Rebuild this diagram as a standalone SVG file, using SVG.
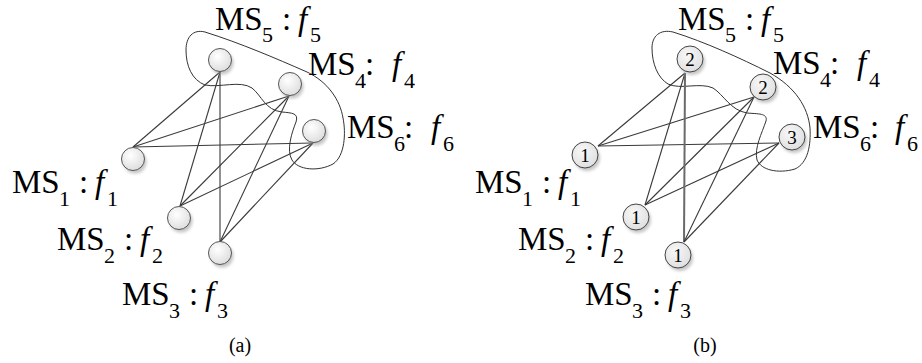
<svg xmlns="http://www.w3.org/2000/svg" width="922" height="363" viewBox="0 0 922 363">
<style>
.lbl{font-family:"Liberation Serif","Times New Roman",serif;font-size:33px;fill:#000}
.sub{font-size:22px}
.it{font-style:italic}
.cap{font-family:"Liberation Serif","Times New Roman",serif;font-size:20px;fill:#000;text-anchor:middle}
.num{font-family:"Liberation Serif","Times New Roman",serif;font-size:19px;fill:#000;text-anchor:middle}
.edge{stroke:#3a3a3a;stroke-width:1.1;fill:none}
.hull{stroke:#333;stroke-width:1;fill:none}
.nodeA{fill:url(#gA);stroke:#555;stroke-width:1}
.nodeB{fill:url(#gB);stroke:#444;stroke-width:1}
.shadow{fill:#9a9a9a;opacity:0.55;filter:url(#blur)}
</style>
<defs>
<radialGradient id="gA" cx="0.4" cy="0.35" r="0.7">
<stop offset="0" stop-color="#ffffff"/>
<stop offset="1" stop-color="#dcdcdc"/>
</radialGradient>
<radialGradient id="gB" cx="0.4" cy="0.35" r="0.7">
<stop offset="0" stop-color="#f8f8f8"/>
<stop offset="1" stop-color="#dedede"/>
</radialGradient>
<filter id="blur" x="-50%" y="-50%" width="200%" height="200%"><feGaussianBlur stdDeviation="1.6"/></filter>
</defs>

<!-- Panel (a) -->
<g id="hull-a"><path class="hull" d="M307,72 C275,58 240,43 205,32 C193,29 186,37 186,50 C186,66 192,80 205,85 C220,88 240,80 252,88 C262,96 265,110 282,112 C292,113 299,113 296,122 C292,132 286,150 292,160 C298,170 318,172 333,164 C345,156 346,133 343,118 C340,100 328,82 307,72 Z"/></g>
<g id="edges-a">
<line class="edge" x1="133" y1="147" x2="220" y2="72"/>
<line class="edge" x1="133" y1="147" x2="289" y2="96"/>
<line class="edge" x1="133" y1="147" x2="313" y2="143"/>
<line class="edge" x1="180" y1="206" x2="220" y2="72"/>
<line class="edge" x1="180" y1="206" x2="289" y2="96"/>
<line class="edge" x1="180" y1="206" x2="313" y2="143"/>
<line class="edge" x1="220" y1="242" x2="220" y2="72"/>
<line class="edge" x1="220" y1="242" x2="289" y2="96"/>
<line class="edge" x1="220" y1="242" x2="313" y2="143"/>
</g>
<g id="a-MS5"><circle class="shadow" cx="222" cy="63" r="11.5"/><circle class="nodeA" cx="220" cy="60" r="11.5"/></g>
<g id="a-MS4"><circle class="shadow" cx="292" cy="87" r="11.5"/><circle class="nodeA" cx="290" cy="84" r="11.5"/></g>
<g id="a-MS6"><circle class="shadow" cx="316" cy="134" r="11.5"/><circle class="nodeA" cx="314" cy="131" r="11.5"/></g>
<g id="a-MS1"><circle class="shadow" cx="135" cy="162" r="11.5"/><circle class="nodeA" cx="133" cy="159" r="11.5"/></g>
<g id="a-MS2"><circle class="shadow" cx="181" cy="221" r="11.5"/><circle class="nodeA" cx="179" cy="218" r="11.5"/></g>
<g id="a-MS3"><circle class="shadow" cx="222" cy="256" r="11.5"/><circle class="nodeA" cx="220" cy="253" r="11.5"/></g>

<g id="labels-a">
<text class="lbl"><tspan x="215" y="30">MS</tspan><tspan class="sub" x="262" y="42">5</tspan><tspan x="282" y="30">:</tspan><tspan class="it" x="298" y="30">f</tspan><tspan class="sub" x="310" y="42">5</tspan></text>
<text class="lbl"><tspan x="308" y="75">MS</tspan><tspan class="sub" x="355" y="88">4</tspan><tspan x="365" y="75">:</tspan><tspan class="it" x="392" y="75">f</tspan><tspan class="sub" x="404" y="88">4</tspan></text>
<text class="lbl"><tspan x="347" y="138">MS</tspan><tspan class="sub" x="394" y="151">6</tspan><tspan x="404" y="138">:</tspan><tspan class="it" x="431" y="138">f</tspan><tspan class="sub" x="443" y="151">6</tspan></text>
<text class="lbl"><tspan x="12" y="193">MS</tspan><tspan class="sub" x="59" y="206">1</tspan><tspan x="79" y="193">:</tspan><tspan class="it" x="95" y="193">f</tspan><tspan class="sub" x="107" y="206">1</tspan></text>
<text class="lbl"><tspan x="57" y="250">MS</tspan><tspan class="sub" x="104" y="263">2</tspan><tspan x="124" y="250">:</tspan><tspan class="it" x="140" y="250">f</tspan><tspan class="sub" x="152" y="263">2</tspan></text>
<text class="lbl"><tspan x="122" y="305">MS</tspan><tspan class="sub" x="169" y="318">3</tspan><tspan x="189" y="305">:</tspan><tspan class="it" x="205" y="305">f</tspan><tspan class="sub" x="217" y="318">3</tspan></text>
<text class="cap" x="240" y="352">(a)</text>
</g>

<!-- Panel (b) -->
<g id="hull-b"><path class="hull" d="M770,73 C740,58 705,42 673,32 C660,29 652,36 652,48 C652,64 658,78 668,84 C680,90 700,82 713,88 C724,95 730,110 747,113 C758,114 768,113 766,121 C762,133 754,148 757,160 C761,170 778,174 795,169 C808,163 811,145 810,128 C808,107 795,87 770,73 Z"/></g>
<g id="edges-b">
<line class="edge" x1="598" y1="146" x2="685" y2="73"/>
<line class="edge" x1="598" y1="146" x2="754" y2="97"/>
<line class="edge" x1="598" y1="146" x2="779" y2="143"/>
<line class="edge" x1="645" y1="205" x2="685" y2="73"/>
<line class="edge" x1="645" y1="205" x2="754" y2="97"/>
<line class="edge" x1="645" y1="205" x2="779" y2="143"/>
<line x1="684" y1="242" x2="685" y2="73" stroke="#6a6a6a" stroke-width="2"/>
<line class="edge" x1="684" y1="242" x2="754" y2="97"/>
<line class="edge" x1="684" y1="242" x2="779" y2="143"/>
</g>
<g id="b-MS5"><circle class="shadow" cx="692" cy="62" r="13"/><circle class="nodeB" cx="690" cy="59" r="13"/><text class="num" x="690" y="66">2</text></g>
<g id="b-MS4"><circle class="shadow" cx="765" cy="90" r="13"/><circle class="nodeB" cx="763" cy="87" r="13"/><text class="num" x="763" y="94">2</text></g>
<g id="b-MS6"><circle class="shadow" cx="794" cy="140" r="13"/><circle class="nodeB" cx="792" cy="137" r="13"/><text class="num" x="792" y="144">3</text></g>
<g id="b-MS1"><circle class="shadow" cx="587" cy="158" r="13"/><circle class="nodeB" cx="585" cy="155" r="13"/><text class="num" x="585" y="162">1</text></g>
<g id="b-MS2"><circle class="shadow" cx="638" cy="220" r="13"/><circle class="nodeB" cx="636" cy="217" r="13"/><text class="num" x="636" y="224">1</text></g>
<g id="b-MS3"><circle class="shadow" cx="680" cy="258" r="13"/><circle class="nodeB" cx="678" cy="255" r="13"/><text class="num" x="678" y="262">1</text></g>

<g id="labels-b">
<text class="lbl"><tspan x="678" y="30">MS</tspan><tspan class="sub" x="725" y="42">5</tspan><tspan x="745" y="30">:</tspan><tspan class="it" x="761" y="30">f</tspan><tspan class="sub" x="773" y="42">5</tspan></text>
<text class="lbl"><tspan x="773" y="74">MS</tspan><tspan class="sub" x="820" y="87">4</tspan><tspan x="830" y="74">:</tspan><tspan class="it" x="857" y="74">f</tspan><tspan class="sub" x="869" y="87">4</tspan></text>
<text class="lbl"><tspan x="813" y="138">MS</tspan><tspan class="sub" x="860" y="151">6</tspan><tspan x="870" y="138">:</tspan><tspan class="it" x="895" y="138">f</tspan><tspan class="sub" x="907" y="151">6</tspan></text>
<text class="lbl"><tspan x="475" y="193">MS</tspan><tspan class="sub" x="522" y="206">1</tspan><tspan x="542" y="193">:</tspan><tspan class="it" x="558" y="193">f</tspan><tspan class="sub" x="570" y="206">1</tspan></text>
<text class="lbl"><tspan x="518" y="250">MS</tspan><tspan class="sub" x="565" y="263">2</tspan><tspan x="585" y="250">:</tspan><tspan class="it" x="601" y="250">f</tspan><tspan class="sub" x="613" y="263">2</tspan></text>
<text class="lbl"><tspan x="585" y="305">MS</tspan><tspan class="sub" x="632" y="318">3</tspan><tspan x="652" y="305">:</tspan><tspan class="it" x="668" y="305">f</tspan><tspan class="sub" x="680" y="318">3</tspan></text>
<text class="cap" x="705" y="352">(b)</text>
</g>
</svg>
